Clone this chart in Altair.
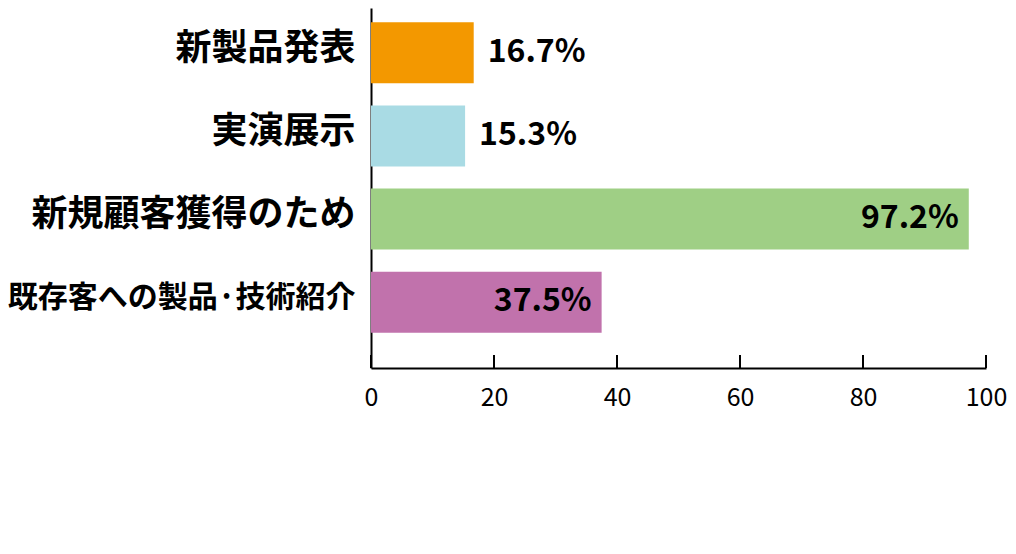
import altair as alt
import pandas as pd

categories = ["新製品発表", "実演展示", "新規顧客獲得のため", "既存客への製品·技術紹介"]
values = [16.7, 15.3, 97.2, 37.5]
labels = ["16.7%", "15.3%", "97.2%", "37.5%"]
colors = ["#F39800", "#A9DBE4", "#9FCF85", "#C172AC"]
tick_values = [0, 20, 40, 60, 80, 100]

df = pd.DataFrame({"cat": categories, "value": values, "label": labels, "color": colors})
ticks_df = pd.DataFrame({"t": tick_values})

FONT = "Noto Sans CJK JP"
W, H = 615, 360

xscale = alt.Scale(domain=[0, 100], nice=False, zero=True)
yscale = alt.Scale(type="band", paddingInner=0.26, paddingOuter=0.295, align=0.286)

x_enc = alt.X("value:Q", scale=xscale,
              axis=alt.Axis(values=tick_values, title=None, grid=False, ticks=False,
                            domainColor="black", domainWidth=2,
                            labelFont=FONT, labelFontSize=25, labelColor="black",
                            labelPadding=17, labelFlush=False))
y_enc = alt.Y("cat:N", sort=categories, scale=yscale,
              axis=alt.Axis(title=None, ticks=False, domainColor="black", domainWidth=2,
                            labelFont=FONT,
                            labelFontSize={"condition": {"test": f"datum.value == '{categories[3]}'", "value": 30}, "value": 36},
                            labelFontWeight="bold", labelOffset=-4,
                            labelColor="black", labelPadding=16, labelLimit=500))

bars = alt.Chart(df).mark_bar(size=61).encode(
    x=x_enc,
    y=y_enc,
    color=alt.Color("color:N", scale=None),
)

text_out = alt.Chart(df).transform_filter("datum.value <= 30").mark_text(
    align="left", baseline="middle", dx=14, dy=-1, font=FONT, fontSize=32, fontWeight="bold", color="black"
).encode(x=alt.X("value:Q", scale=xscale), y=alt.Y("cat:N", sort=categories, scale=yscale), text="label:N")

text_in = alt.Chart(df).transform_filter("datum.value > 30").mark_text(
    align="right", baseline="middle", dx=-10, dy=-1, font=FONT, fontSize=32, fontWeight="bold", color="black"
).encode(x=alt.X("value:Q", scale=xscale), y=alt.Y("cat:N", sort=categories, scale=yscale), text="label:N")

tick_rules = alt.Chart(ticks_df).mark_rule(color="black", strokeWidth=2).encode(
    x=alt.X("t:Q", scale=xscale),
    y=alt.value(H - 13),
    y2=alt.value(H),
)

chart = alt.layer(bars, tick_rules, text_out, text_in).properties(
    width=W, height=H,
    autosize=alt.AutoSizeParams(type="none"),
    padding={"left": 363, "top": 0, "right": 22, "bottom": 70},
    background="white",
).configure_view(stroke=None)

chart.save("out.html", embed_options={"renderer": "svg", "actions": False})
